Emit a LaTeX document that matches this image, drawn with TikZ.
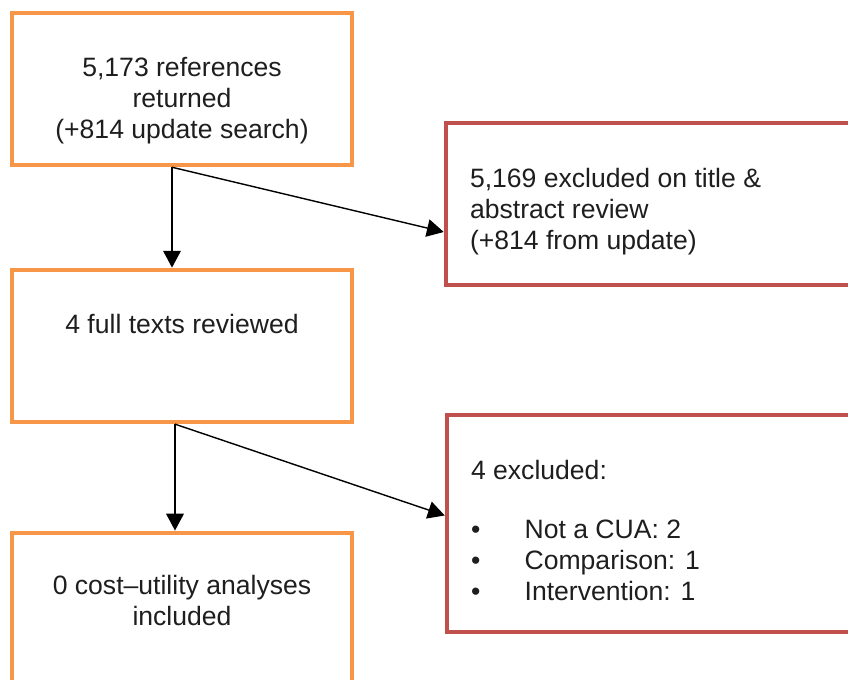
\documentclass[tikz,border=0pt]{standalone}
\usepackage{fontspec}
\setmainfont{Liberation Sans}
\usetikzlibrary{arrows.meta,positioning}
\definecolor{flowOrange}{RGB}{247,150,70}
\definecolor{exclRed}{RGB}{192,80,77}
\definecolor{inkGray}{RGB}{30,30,30}

\begin{document}
\begin{tikzpicture}[
  font=\fontsize{18.9}{22}\selectfont,
  >={Triangle[length=4.2mm, width=4.4mm]},
  obox/.style={
    draw=flowOrange,
    line width=3.2pt,
    minimum width=8.5cm,
    minimum height=3.8cm,
  },
  rbox/.style={
    draw=exclRed,
    line width=3.2pt,
    minimum width=10.15cm,
  },
  txt/.style={
    text=inkGray,
    inner sep=0pt,
  },
  flow/.style={
    ->,
    line width=1pt,
  },
]

  \useasboundingbox (0,0) rectangle (21.2,16.975);

  \node[obox] (refs) at (4.55,14.75) {};
  \node[obox, below=2.51cm of refs] (full) {};
  \node[obox, below=2.66cm of full] (incl) {};

  \node[rbox, minimum height=4.05cm] (excl1) at (16.225,11.875) {};
  \node[rbox, minimum height=5.425cm] (excl2) at (16.25,3.8875) {};

  \node[txt, align=center, below=1.15cm of refs.north] (refsTxt)
    {5,173 references\\returned\\(+814 update search)};
  \node[txt, align=center, below=1.15cm of full.north] (fullTxt)
    {4 full texts reviewed};
  \node[txt, align=center, below=1.1cm of incl.north] (inclTxt)
    {0 cost--utility analyses\\included};

  \node[txt, align=left, below right=1.175cm and 0.65cm of excl1.north west] (excl1Txt)
    {5,169 excluded on title \&\\abstract review\\(+814 from update)};
  \node[txt, align=left, below right=1.175cm and 0.65cm of excl2.north west] (excl2Txt)
    {4 excluded:\\[7mm]
     \makebox[1.34cm][l]{\textbullet}Not a CUA: 2\\
     \makebox[1.34cm][l]{\textbullet}Comparison: 1\\
     \makebox[1.34cm][l]{\textbullet}Intervention: 1};

  \draw[flow] ([xshift=-2.5mm]refs.south) -- ([xshift=-2.5mm]full.north);
  \draw[flow] ([xshift=-2.5mm]refs.south) -- ([yshift=-7mm]excl1.west);
  \draw[flow] ([xshift=-1.75mm]full.south) -- ([xshift=-1.75mm]incl.north);
  \draw[flow] ([xshift=-1.75mm]full.south) -- ([yshift=2mm]excl2.west);

\end{tikzpicture}
\end{document}
